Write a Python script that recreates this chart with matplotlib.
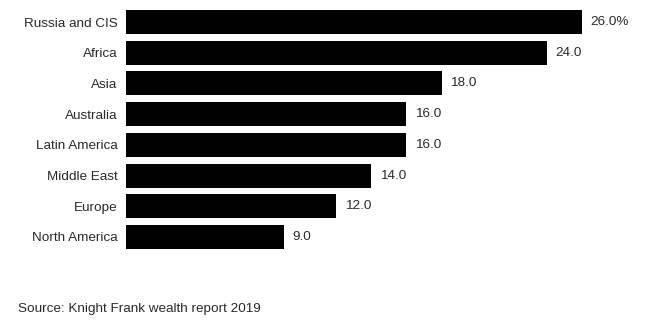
import matplotlib
matplotlib.use("Agg")
import matplotlib.pyplot as plt

regions = ["Russia and CIS", "Africa", "Asia", "Australia", "Latin America",
           "Middle East", "Europe", "North America"]
values = [26.0, 24.0, 18.0, 16.0, 16.0, 14.0, 12.0, 9.0]
value_labels = ["26.0%", "24.0", "18.0", "16.0", "16.0", "14.0", "12.0", "9.0"]
source = "Source: Knight Frank wealth report 2019"

plt.rcParams['font.family'] = ['Liberation Sans', 'DejaVu Sans']

W, H = 645, 334
fig = plt.figure(figsize=(W / 100, H / 100), dpi=100)
fig.patch.set_facecolor("white")

# axes spans the bar area; x scale ~17.5 px per percentage point
left_px, top_px, bottom_px = 126, 0, 260
ax = fig.add_axes([left_px / W, 1 - bottom_px / H, 1 - left_px / W, (bottom_px - top_px) / H])
ax.set_xlim(0, (W - left_px) / 17.53)
step = 30.7
ax.set_ylim(7 + (bottom_px - 237) / step, -22 / step)

ypos = list(range(len(regions)))
ax.barh(ypos, values, height=24 / step, color="black", align="center")

for y, v, lab in zip(ypos, values, value_labels):
    ax.annotate(lab, xy=(v, y), xytext=(6, 0), textcoords="offset points",
                ha="left", va="center", fontsize=9.7, color="#2a2a2a")

ax.set_yticks(ypos)
ax.set_yticklabels(regions, fontsize=9.7, color="#2a2a2a")
ax.tick_params(axis="y", length=0, pad=6)
ax.set_xticks([])
for s in ax.spines.values():
    s.set_visible(False)
ax.patch.set_alpha(0)

fig.text(18 / W, 1 - 309 / H, source, ha="left", va="center", fontsize=9.7, color="#2a2a2a")

fig.savefig("out.png", dpi=100, facecolor="white")
